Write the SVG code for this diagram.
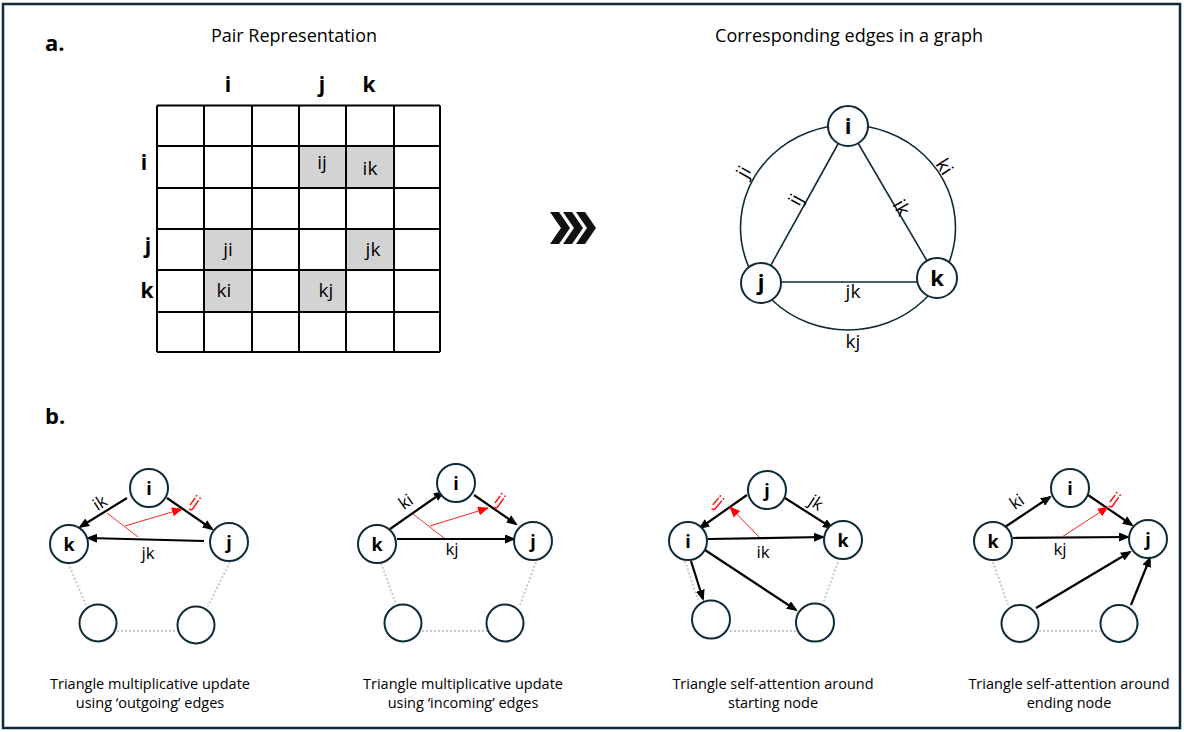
<svg xmlns="http://www.w3.org/2000/svg" width="1184" height="732" viewBox="0 0 1184 732">
<style>
text{font-family:"Open Sans","Liberation Sans",sans-serif;fill:#000}
.t{font-size:18px}
.h{font-size:22px;font-weight:bold}
.cell{font-size:19px;text-anchor:middle}
.ax{font-size:21px;font-weight:bold;text-anchor:middle}
.na{font-size:22px;font-weight:bold;text-anchor:middle}
.nb{font-size:18px;font-weight:bold;text-anchor:middle}
.el{font-size:19px;text-anchor:middle}
.bl{font-size:17px;text-anchor:middle}
.red{fill:#ff0000}
.cap{font-size:14.5px;text-anchor:middle}
.node{fill:#fff;stroke:#0f2a38;stroke-width:2}
.edge{fill:none;stroke:#0f2a38;stroke-width:1.6}
.arr{fill:none;stroke:#000;stroke-width:2.2;marker-end:url(#ah)}
.rarr{fill:none;stroke:#ff2020;stroke-width:1;marker-end:url(#rh)}
.rl{fill:none;stroke:#ff3030;stroke-width:1}
.dot{fill:none;stroke:#c8c8c8;stroke-width:2;stroke-dasharray:2 2}
</style>
<defs>
<marker id="ah" viewBox="0 0 11 9" refX="9" refY="4.5" markerWidth="11" markerHeight="9" markerUnits="userSpaceOnUse" orient="auto"><path d="M0,0 L11,4.5 L0,9 z" fill="#000"/></marker>
<marker id="rh" viewBox="0 0 11 9" refX="10" refY="4.5" markerWidth="11" markerHeight="9" markerUnits="userSpaceOnUse" orient="auto"><path d="M0,0 L11,4.5 L0,9 z" fill="#ff0000"/></marker>
</defs>
<rect x="0" y="0" width="1184" height="732" fill="#fff"/>
<rect x="3" y="4" width="1177" height="724" fill="#fff" stroke="#0f2a38" stroke-width="2.5"/>

<text class="h" x="45" y="51">a.</text>
<text class="h" x="45" y="424">b.</text>

<g id="pair-matrix">
<text class="t" x="294" y="42" text-anchor="middle">Pair Representation</text>
<text class="ax" x="228" y="92">i</text>
<text class="ax" x="322" y="92">j</text>
<text class="ax" x="369" y="92">k</text>
<text class="ax" x="144" y="170">i</text>
<text class="ax" x="148" y="253">j</text>
<text class="ax" x="147" y="298">k</text>
<g fill="#d3d3d3">
<rect x="299" y="146" width="47" height="42"/>
<rect x="346" y="146" width="48" height="42"/>
<rect x="204" y="229" width="48" height="41"/>
<rect x="346" y="229" width="48" height="41"/>
<rect x="204" y="270" width="48" height="42"/>
<rect x="299" y="270" width="47" height="42"/>
</g>
<path d="M157,105.5H440M157,146H440M157,188H440M157,229H440M157,270H440M157,312H440M157,352H440M157,105.5V352M204,105.5V352M252,105.5V352M299,105.5V352M346,105.5V352M394,105.5V352M440,105.5V352" fill="none" stroke="#000" stroke-width="2"/>
<text class="cell" x="322" y="169">ij</text>
<text class="cell" x="370" y="175">ik</text>
<text class="cell" x="228" y="256">ji</text>
<text class="cell" x="373" y="256">jk</text>
<text class="cell" x="224" y="297">ki</text>
<text class="cell" x="326" y="297">kj</text>
</g>

<g id="chevron" fill="#111">
<polygon points="550,212 559,212 570,228 559,244 550,244 561,228"/>
<polygon points="563,212 572,212 583,228 572,244 563,244 574,228"/>
<polygon points="576,212 585,212 596,228 585,244 576,244 587,228"/>
</g>

<g id="graph-a-edges">
<text class="t" x="849" y="42" text-anchor="middle">Corresponding edges in a graph</text>
<ellipse class="edge" cx="848" cy="227.5" rx="107.5" ry="102.5" stroke-width="2"/>
<line class="edge" x1="848" y1="126" x2="761" y2="283"/>
<line class="edge" x1="848" y1="126" x2="937" y2="278"/>
<line class="edge" x1="761" y1="282" x2="937" y2="282"/>
<text class="el" transform="translate(744,172) rotate(-60)" y="6">ji</text>
<text class="el" transform="translate(796,200) rotate(-61)" y="6">ij</text>
<text class="el" transform="translate(901,208) rotate(60)" y="6">ik</text>
<text class="el" transform="translate(944,167) rotate(57)" y="6">ki</text>
<text class="el" x="853" y="298">jk</text>
<text class="el" x="853" y="348">kj</text>
</g>
<g id="a-node-i"><circle class="node" cx="848" cy="126" r="20"/><text class="na" x="848" y="134">i</text></g>
<g id="a-node-j"><circle class="node" cx="761" cy="283" r="20"/><text class="na" x="761" y="290">j</text></g>
<g id="a-node-k"><circle class="node" cx="937" cy="278" r="20"/><text class="na" x="937" y="286">k</text></g>

<g id="connectors">
<!-- b1 -->
<line class="dot" x1="68" y1="563" x2="86" y2="605"/>
<line class="dot" x1="230" y1="562" x2="208" y2="606"/>
<line class="dot" x1="117" y1="631" x2="178" y2="631"/>
<line class="arr" x1="127" y1="498" x2="80" y2="527"/>
<line class="arr" x1="167" y1="498" x2="212" y2="529"/>
<line class="arr" x1="204" y1="541" x2="88" y2="538"/>
<line class="rl" x1="107" y1="513" x2="138" y2="537"/>
<line class="rarr" x1="125" y1="526" x2="182" y2="509"/>
<!-- b2 -->
<line class="dot" x1="381" y1="563" x2="396" y2="604"/>
<line class="dot" x1="536" y1="562" x2="520" y2="605"/>
<line class="dot" x1="422" y1="631" x2="488" y2="631"/>
<line class="arr" x1="390" y1="529" x2="443" y2="492"/>
<line class="arr" x1="474" y1="495" x2="516" y2="524"/>
<line class="arr" x1="397" y1="539" x2="514" y2="539"/>
<line class="rl" x1="413" y1="514" x2="444" y2="538"/>
<line class="rarr" x1="430" y1="526" x2="488" y2="508"/>
<!-- b3 -->
<line class="dot" x1="685" y1="561" x2="698" y2="600"/>
<line class="dot" x1="838" y1="562" x2="823" y2="603"/>
<line class="dot" x1="730" y1="631" x2="796" y2="631"/>
<line class="arr" x1="747" y1="495" x2="700" y2="528"/>
<line class="arr" x1="785" y1="498" x2="832" y2="528"/>
<line class="arr" x1="708" y1="539" x2="823" y2="537"/>
<line class="rarr" x1="759" y1="537" x2="730" y2="507"/>
<line class="arr" x1="691" y1="561" x2="703" y2="599"/>
<line class="arr" x1="705" y1="550" x2="796" y2="610"/>
<!-- b4 -->
<line class="dot" x1="993" y1="562" x2="1008" y2="605"/>
<line class="dot" x1="1039" y1="631" x2="1100" y2="631"/>
<line class="arr" x1="1005" y1="527" x2="1050" y2="497"/>
<line class="arr" x1="1088" y1="495" x2="1132" y2="525"/>
<line class="arr" x1="1013" y1="538" x2="1128" y2="537"/>
<line class="rarr" x1="1062" y1="537" x2="1108" y2="507"/>
<line class="arr" x1="1036" y1="608" x2="1130" y2="552"/>
<line class="arr" x1="1131" y1="605" x2="1150" y2="558"/>
</g>

<g id="b1-labels">
<text class="bl" transform="translate(100,503) rotate(-33)" y="5.5">ik</text>
<text class="bl red" transform="translate(195,502) rotate(35)" y="5.5">ij</text>
<text class="bl" x="148" y="559">jk</text>
<text class="cap" x="150" y="689">Triangle multiplicative update</text>
<text class="cap" x="150" y="708">using ‘outgoing’ edges</text>
</g>
<g id="b1-node-i"><circle class="node" cx="149" cy="488" r="19"/><text class="nb" x="149" y="494.5">i</text></g>
<g id="b1-node-k"><circle class="node" cx="69" cy="544" r="19"/><text class="nb" x="69" y="550.5">k</text></g>
<g id="b1-node-j"><circle class="node" cx="229" cy="542" r="19"/><text class="nb" x="229" y="548.5">j</text></g>
<g id="b1-node-a"><circle class="node" cx="98" cy="623" r="18.5"/></g>
<g id="b1-node-b"><circle class="node" cx="196" cy="625" r="18.5"/></g>

<g id="b2-labels">
<text class="bl" transform="translate(406,502) rotate(-35)" y="5.5">ki</text>
<text class="bl red" transform="translate(500,500) rotate(35)" y="5.5">ij</text>
<text class="bl" x="452" y="555">kj</text>
<text class="cap" x="463" y="689">Triangle multiplicative update</text>
<text class="cap" x="463" y="708">using ‘incoming’ edges</text>
</g>
<g id="b2-node-i"><circle class="node" cx="456" cy="483" r="19"/><text class="nb" x="456" y="489.5">i</text></g>
<g id="b2-node-k"><circle class="node" cx="377" cy="544" r="19"/><text class="nb" x="377" y="550.5">k</text></g>
<g id="b2-node-j"><circle class="node" cx="533" cy="541" r="19"/><text class="nb" x="533" y="547.5">j</text></g>
<g id="b2-node-a"><circle class="node" cx="403" cy="623" r="18.5"/></g>
<g id="b2-node-b"><circle class="node" cx="505" cy="623" r="18.5"/></g>

<g id="b3-labels">
<text class="bl red" transform="translate(718,502) rotate(40)" y="5.5">ij</text>
<text class="bl" transform="translate(816,503) rotate(33)" y="5.5">jk</text>
<text class="bl" x="763" y="558">ik</text>
<text class="cap" x="773" y="689">Triangle self-attention around</text>
<text class="cap" x="773" y="708">starting node</text>
</g>
<g id="b3-node-j"><circle class="node" cx="767" cy="490" r="19"/><text class="nb" x="767" y="496.5">j</text></g>
<g id="b3-node-i"><circle class="node" cx="688" cy="541" r="19"/><text class="nb" x="688" y="547.5">i</text></g>
<g id="b3-node-k"><circle class="node" cx="843" cy="540" r="19"/><text class="nb" x="843" y="546.5">k</text></g>
<g id="b3-node-a"><circle class="node" cx="711" cy="619.5" r="19"/></g>
<g id="b3-node-b"><circle class="node" cx="815" cy="622.5" r="19"/></g>

<g id="b4-labels">
<text class="bl" transform="translate(1017,502) rotate(-35)" y="5.5">ki</text>
<text class="bl red" transform="translate(1115,499) rotate(35)" y="5.5">ij</text>
<text class="bl" x="1060" y="555">kj</text>
<text class="cap" x="1069" y="689">Triangle self-attention around</text>
<text class="cap" x="1069" y="708">ending node</text>
</g>
<g id="b4-node-i"><circle class="node" cx="1070" cy="488" r="19"/><text class="nb" x="1070" y="494.5">i</text></g>
<g id="b4-node-k"><circle class="node" cx="993" cy="541" r="19"/><text class="nb" x="993" y="547.5">k</text></g>
<g id="b4-node-j"><circle class="node" cx="1148" cy="539" r="19"/><text class="nb" x="1148" y="545.5">j</text></g>
<g id="b4-node-a"><circle class="node" cx="1020" cy="623.5" r="18.5"/></g>
<g id="b4-node-b"><circle class="node" cx="1119" cy="623.5" r="18.5"/></g>
</svg>
